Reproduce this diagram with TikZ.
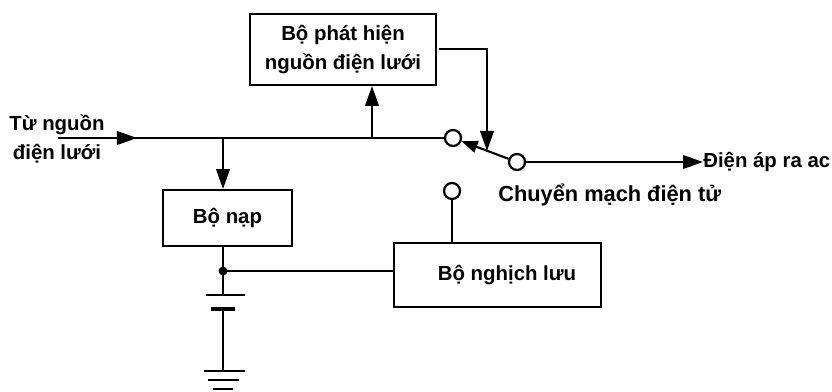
\documentclass[tikz,border=0pt]{standalone}
\usepackage{fontspec}
\setmainfont{Liberation Sans}
\usepackage{tikz}
\usetikzlibrary{arrows.meta, positioning, calc}

\begin{document}
\begin{tikzpicture}[
    x=0.025cm, y=-0.025cm,
    block/.style={rectangle, draw, line width=1.4pt, inner sep=0pt, font=\bfseries\fontsize{14.5}{21}\selectfont, align=center},
    label/.style={inner sep=0pt, font=\bfseries\fontsize{14.5}{21}\selectfont, align=center},
    contact/.style={circle, draw, line width=1.6pt, fill=white, inner sep=0pt, minimum size=0.4cm},
    wire/.style={line width=1.5pt},
    flow/.style={wire, -{Triangle[length=0.5cm, width=0.34cm]}},
    plate/.style={line width=1.9pt}
]
    \useasboundingbox (0, 0) rectangle (832, 392);

    \node[block, minimum width=4.65cm, minimum height=1.775cm] (detect) at (343, 49.5) {Bộ phát hiện\\nguồn điện lưới};
    \node[block, minimum width=3.225cm, minimum height=1.4cm] (charger) at (227.5, 218) {Bộ nạp};
    \node[block, minimum width=5.175cm, minimum height=1.6cm] (inverter) at (497.5, 275) {\hspace*{0.475cm}Bộ nghịch lưu};

    \node[contact] (mainpin) at (453, 138) {};
    \node[contact] (invpin) at (452, 191) {};
    \node[contact] (outpin) at (517, 162) {};

    \node[label] (source) at (57, 139) {Từ nguồn\\điện lưới};
    \node[label, anchor=west] (output) at (703, 162) {Điện áp ra ac};
    \node[label, anchor=west, font=\bfseries\fontsize{15.5}{21}\selectfont] (switchname) at (498, 195) {Chuyển mạch điện tử};

    \coordinate (in) at (58, 138);
    \coordinate (inmid) at (137, 138);
    \coordinate (tapcharger) at (223, 138);
    \coordinate (tapdetect) at (372, 138);
    \coordinate (arm) at (487, 151);
    \coordinate (tapout) at (439, 49);
    \coordinate (corner) at (487, 49);
    \coordinate (dot) at (223, 271);
    \coordinate (plateA) at (223, 295);
    \coordinate (plateB) at (223, 309);
    \coordinate (earth) at (223, 371);

    \draw[wire] (in) -- (mainpin);
    \draw[flow] (in) -- (inmid);
    \draw[flow] (tapcharger) -- (charger.north -| tapcharger);
    \draw[flow] (tapdetect) -- (detect.south -| tapdetect);
    \draw[flow] (tapout) -- (corner) -- (arm);
    \draw[flow, -{Triangle[length=0.4cm, width=0.3cm]}] (outpin) -- (mainpin);
    \draw[flow] (outpin) -- (output.west);
    \draw[wire] (invpin) -- (inverter.north -| invpin);

    \draw[wire] (charger.south -| dot) -- (plateA);
    \draw[wire] (dot) -- (inverter.west |- dot);
    \fill (dot) circle (0.11cm);

    \draw[plate] ($(plateA)+(-17,0)$) -- ($(plateA)+(22,0)$);
    \draw[plate, line width=2.4pt] ($(plateB)+(-12,0)$) -- ($(plateB)+(12,0)$);
    \draw[wire] (plateB) -- (earth);
    \draw[plate] ($(earth)+(-19,0)$) -- ($(earth)+(22,0)$);
    \draw[plate] ($(earth)+(-15,9)$) -- ($(earth)+(16,9)$);
    \draw[plate] ($(earth)+(-10,18)$) -- ($(earth)+(10,18)$);
\end{tikzpicture}
\end{document}
